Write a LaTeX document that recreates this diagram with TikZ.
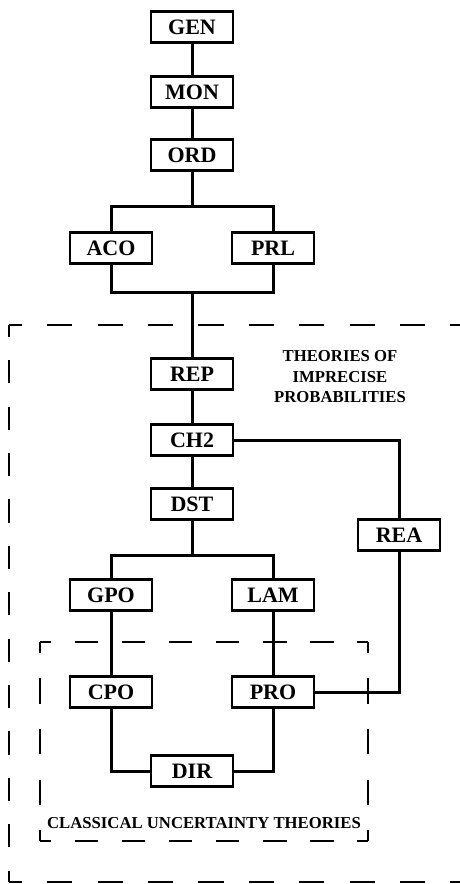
\documentclass[tikz,border=0pt]{standalone}
\usepackage{fontspec}
\setmainfont{Liberation Serif}
\usepackage{tikz}
\usetikzlibrary{positioning,calc}

\begin{document}
\begin{tikzpicture}[x=1pt,y=-1pt,
  th/.style={draw,line width=2.4pt,fill=white,minimum width=82pt,minimum height=31pt,
             inner sep=0pt,font=\fontsize{22}{22}\selectfont\bfseries},
  link/.style={line width=3pt},
  zone/.style={line width=2pt},
  zonelbl/.style={font=\fontsize{16.7}{20.5}\selectfont\bfseries,align=center}]
  \useasboundingbox (0,0) rectangle (460,884);
  % dashed zones, one side at a time so the corners close
  \draw[zone,dash pattern=on 25.2pt off 25.2pt,dash phase=12.2pt] (9,325) -- (470,325);
  \draw[zone,dash pattern=on 25.2pt off 25.2pt,dash phase=12.2pt] (9,882) -- (470,882);
  \draw[zone,dash pattern=on 23.2pt off 23.2pt,dash phase=11.2pt] (9,325) -- (9,882);
  \draw[zone,dash pattern=on 23.55pt off 23.55pt,dash phase=12.55pt] (40,642) -- (368,642);
  \draw[zone,dash pattern=on 23.55pt off 23.55pt,dash phase=12.55pt] (40,841) -- (368,841);
  \draw[zone,dash pattern=on 25.3pt off 25.3pt,dash phase=14.3pt] (40,642) -- (40,841);
  \draw[zone,dash pattern=on 25.3pt off 25.3pt,dash phase=14.3pt] (368,642) -- (368,841);
  \node[zonelbl] (imp) at (340,377) {THEORIES OF\\ IMPRECISE\\ PROBABILITIES};
  \node[zonelbl] (cla) at (204,823) {CLASSICAL UNCERTAINTY THEORIES};
  % theories
  \node[th] (gen) at (192,27)  {GEN};
  \node[th] (mon) at (192,92)  {MON};
  \node[th] (ord) at (192,155) {ORD};
  \node[th] (aco) at (111,248) {ACO};
  \node[th] (prl) at (273,248) {PRL};
  \node[th] (rep) at (192,374) {REP};
  \node[th] (ch2) at (192,440) {CH2};
  \node[th] (dst) at (192,504) {DST};
  \node[th] (rea) at (399,535) {REA};
  \node[th] (gpo) at (111,595) {GPO};
  \node[th] (lam) at (273,595) {LAM};
  \node[th] (cpo) at (111,692) {CPO};
  \node[th] (pro) at (273,692) {PRO};
  \node[th] (dir) at (192,771) {DIR};
  \coordinate (top)  at (192,206);
  \coordinate (mid)  at (192,292);
  \coordinate (low)  at (192,555);
  % links
  \draw[link] (gen) -- (mon);
  \draw[link] (mon) -- (ord);
  \draw[link] (ord) -- (top);
  \draw[link] (aco) |- (top) -| (prl);
  \draw[link] (aco) |- (mid) -| (prl);
  \draw[link] (mid) -- (rep);
  \draw[link] (rep) -- (ch2);
  \draw[link] (ch2) -- (dst);
  \draw[link] (ch2) -| (rea);
  \draw[link] (dst) -- (low);
  \draw[link] (gpo) |- (low) -| (lam);
  \draw[link] (gpo) -- (cpo);
  \draw[link] (lam) -- (pro);
  \draw[link] (pro) -| (rea);
  \draw[link] (cpo) |- (dir);
  \draw[link] (pro) |- (dir);
\end{tikzpicture}
\end{document}
